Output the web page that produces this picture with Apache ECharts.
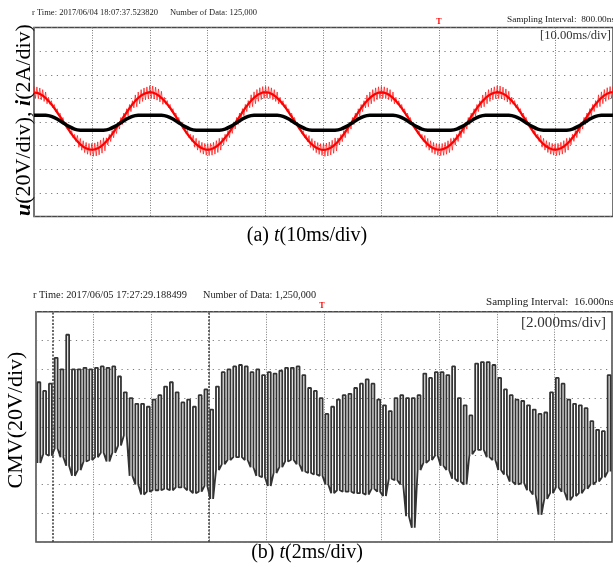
<!DOCTYPE html>
<html><head><meta charset="utf-8">
<script src="https://cdn.jsdelivr.net/npm/echarts@6/dist/echarts.min.js"></script>
<style>html,body{margin:0;padding:0;background:#fff}#c{width:613px;height:567px}</style>
</head><body><div id="c"></div>
<script>
// ---------- Panel (a): u (V) and i (A), 0..100 ms ----------
const uStepMs = 0.5;
const uVolts = [
 25.0, 24.7, 23.8, 22.4, 20.4, 17.9, 15.0, 11.8, 8.2, 4.5, 0.8, -3.0, -6.7, -10.3, -13.5, -16.4, -18.9, -20.9, -22.3, -23.2,
 -23.5, -23.2, -22.3, -20.9, -18.9, -16.4, -13.5, -10.3, -6.7, -3.0, 0.8, 4.5, 8.2, 11.8, 15.0, 17.9, 20.4, 22.4, 23.8, 24.7,
 25.3, 25.0, 24.0, 22.5, 20.5, 18.0, 15.1, 11.9, 8.3, 4.6, 0.9, -2.9, -6.6, -10.2, -13.4, -16.3, -18.8, -20.8, -22.2, -23.1,
 -23.4, -23.1, -22.2, -20.8, -18.8, -16.3, -13.4, -10.2, -6.6, -2.9, 0.9, 4.6, 8.3, 11.9, 15.1, 18.0, 20.5, 22.5, 24.0, 25.0,
 25.2, 24.9, 23.9, 22.4, 20.4, 17.9, 15.0, 11.8, 8.2, 4.5, 0.8, -3.0, -6.7, -10.3, -13.6, -16.5, -19.0, -21.0, -22.4, -23.3,
 -23.6, -23.3, -22.4, -21.0, -19.0, -16.5, -13.6, -10.3, -6.7, -3.0, 0.8, 4.5, 8.2, 11.8, 15.0, 17.9, 20.4, 22.4, 23.9, 24.8,
 25.1, 24.8, 23.9, 22.4, 20.4, 17.9, 15.0, 11.8, 8.2, 4.5, 0.8, -3.0, -6.7, -10.3, -13.5, -16.4, -18.9, -20.9, -22.3, -23.2,
 -23.5, -23.2, -22.3, -20.9, -18.9, -16.4, -13.5, -10.3, -6.7, -3.0, 0.8, 4.5, 8.2, 11.8, 15.0, 17.9, 20.4, 22.4, 23.8, 24.8,
 25.3, 25.0, 24.0, 22.5, 20.5, 18.0, 15.1, 11.9, 8.3, 4.6, 0.9, -2.9, -6.6, -10.2, -13.4, -16.3, -18.8, -20.8, -22.2, -23.1,
 -23.4, -23.1, -22.2, -20.8, -18.8, -16.3, -13.4, -10.2, -6.6, -2.9, 0.9, 4.6, 8.3, 11.9, 15.1, 18.0, 20.5, 22.5, 24.0, 25.0,
 25.2
];
// switching ripple amplitude (V), one value per 2.5 ms block
const uRippleV = [
 5.0, 3.0, 3.0, 5.0, 5.5, 3.0, 3.0, 5.0,
 5.5, 3.0, 3.0, 5.0, 5.0, 3.0, 3.0, 5.0,
 5.0, 3.0, 3.0, 5.0, 5.5, 3.0, 3.0, 5.0,
 5.0, 3.0, 3.0, 5.0, 5.0, 3.0, 3.0, 5.0,
 5.5, 3.0, 3.0, 5.0, 5.0, 3.0, 3.0, 5.0, 5.0
];
const iStepMs = 1;
const iAmps = [
 0.58, 0.58, 0.57, 0.48, 0.25, -0.06, -0.37, -0.60, -0.69, -0.70, -0.70, -0.70, -0.69, -0.60, -0.37, -0.06, 0.25, 0.48, 0.57, 0.58,
 0.58, 0.58, 0.57, 0.48, 0.25, -0.06, -0.37, -0.60, -0.69, -0.70, -0.70, -0.70, -0.69, -0.60, -0.37, -0.06, 0.25, 0.48, 0.57, 0.58,
 0.58, 0.58, 0.57, 0.48, 0.25, -0.06, -0.37, -0.60, -0.69, -0.70, -0.70, -0.70, -0.69, -0.60, -0.37, -0.06, 0.25, 0.48, 0.57, 0.58,
 0.58, 0.58, 0.57, 0.48, 0.25, -0.06, -0.37, -0.60, -0.69, -0.70, -0.70, -0.70, -0.69, -0.60, -0.37, -0.06, 0.25, 0.48, 0.57, 0.58,
 0.58, 0.58, 0.57, 0.48, 0.25, -0.06, -0.37, -0.60, -0.69, -0.70, -0.70, -0.70, -0.69, -0.60, -0.37, -0.06, 0.25, 0.48, 0.57, 0.58,
 0.58
];
const uScaleVPerDiv = 20, iScaleAPerDiv = 2;

// ---------- Panel (b): CMV (V), 0..20 ms ----------
const cmvStepMs = 0.2;
const cmvHigh = [
 31, 25, 30, 48, 40, 64, 40, 40, 41, 40,
 41, 42, 41, 42, 35, 24, 20, 16, 16, 14,
 19, 22, 28, 31, 24, 17, 19, 14, 22, 26,
 12, 28, 38, 40, 42, 43, 42, 38, 40, 36,
 38, 37, 39, 41, 41, 42, 36, 27, 25, 20,
 9, 14, 19, 22, 23, 27, 30, 33, 30, 19,
 15, 11, 20, 22, 20, 20, 22, 37, 34, 38,
 38, 36, 42, 20, 15, 8, 44, 45, 45, 43,
 34, 26, 22, 19, 18, 15, 12, 9, 10, 24,
 34, 30, 19, 16, 15, 13, 4, -2, -3, 36
];
const cmvLow = [
 -25, -19, -20, -15, -21, -27, -34, -30, -24, -23,
 -21, -18, -24, -18, -13, -6, -34, -40, -47, -45,
 -44, -44, -43, -44, -42, -42, -44, -46, -45, -41,
 -50, -30, -26, -23, -21, -21, -23, -28, -34, -35,
 -41, -32, -28, -24, -23, -26, -31, -32, -33, -34,
 -40, -46, -44, -45, -45, -46, -46, -47, -43, -45,
 -48, -36, -37, -40, -62, -70, -30, -25, -23, -20,
 -27, -30, -36, -38, -40, -19, -16, -16, -21, -23,
 -30, -33, -38, -40, -39, -44, -47, -61, -50, -46,
 -42, -45, -51, -48, -46, -43, -40, -38, -35, -31
];
const cmvCursorMs = [0.58, 6.0];

// ---------- build series data ----------
const uData = uVolts.map((v, k) => [k * uStepMs, v / uScaleVPerDiv]);
const uRipple = [];
uVolts.forEach((v, k) => {
  const t = k * uStepMs;
  const r = uRippleV[Math.min(uRippleV.length - 1, Math.floor(t / 2.5))];
  uRipple.push([t, (v + r) / uScaleVPerDiv]);
  if (k < uVolts.length - 1) uRipple.push([t + uStepMs / 2, (v - r) / uScaleVPerDiv]);
});
const iData = iAmps.map((v, k) => [k * iStepMs, v / iScaleAPerDiv]);
const cmvData = [];
cmvHigh.forEach((hi, k) => {
  const lo = cmvLow[k];
  const t0 = 0.05 + k * cmvStepMs, tm = t0 + cmvStepMs / 2;
  cmvData.push([t0, lo], [t0, hi], [tm, hi], [tm, lo]);
});

// ---------- text helpers ----------
const ctx2d = document.createElement('canvas').getContext('2d');
function fitText(text, x, y, w, size, family, color) {
  ctx2d.font = size + 'px ' + family;
  const mw = ctx2d.measureText(text).width || 1;
  return { type: 'text', x: x, y: y, scaleX: w / mw, silent: true, z: 100,
    style: { text: text, fontSize: size, fontFamily: family, fill: color, align: 'left', verticalAlign: 'middle' } };
}
const SERIF = 'Liberation Serif';

const vSplit = { show: true, lineStyle: { color: '#7a7a7a', width: 1, type: [1, 1.5] } };
const hSplit = { show: true, lineStyle: { color: '#7a7a7a', width: 1, type: [1.2, 4.5] } };
const hiddenAxis = { axisLine: { show: false }, axisTick: { show: false }, axisLabel: { show: false } };

const chart = echarts.init(document.getElementById('c'));
chart.setOption({
  animation: false,
  backgroundColor: '#fff',
  grid: [
    { left: 34, top: 27.5, width: 580, height: 189, show: true, borderColor: '#474747', borderWidth: 1.5, backgroundColor: 'transparent' },
    { left: 36, top: 311.7, width: 576, height: 230.4, show: true, borderColor: '#474747', borderWidth: 1.5, backgroundColor: 'transparent' }
  ],
  xAxis: [
    Object.assign({ type: 'value', gridIndex: 0, min: 0, max: 100, interval: 10, splitLine: vSplit }, hiddenAxis),
    Object.assign({ type: 'value', gridIndex: 1, min: 0, max: 20, interval: 2, splitLine: vSplit }, hiddenAxis)
  ],
  yAxis: [
    Object.assign({ type: 'value', gridIndex: 0, min: -4, max: 4, interval: 1, splitLine: hSplit }, hiddenAxis),
    Object.assign({ type: 'value', gridIndex: 1, min: -80, max: 80, interval: 20, splitLine: hSplit }, hiddenAxis)
  ],
  series: [
    { type: 'line', xAxisIndex: 0, yAxisIndex: 0, data: uRipple, showSymbol: false, silent: true,
      lineStyle: { color: 'rgba(255,20,20,0.8)', width: 0.9 }, z: 2 },
    { type: 'line', xAxisIndex: 0, yAxisIndex: 0, data: uData, showSymbol: false, silent: true,
      lineStyle: { color: '#ff0000', width: 2.2 }, z: 3 },
    { type: 'line', xAxisIndex: 0, yAxisIndex: 0, data: iData, showSymbol: false, silent: true, smooth: 0.3,
      lineStyle: { color: '#000', width: 3.5 }, z: 4 },
    { type: 'line', xAxisIndex: 1, yAxisIndex: 1, data: cmvData, showSymbol: false, silent: true,
      lineStyle: { color: '#333333', width: 1.8 }, z: 3,
      markLine: { silent: true, symbol: 'none', label: { show: false },
        lineStyle: { color: '#444', width: 1.6, type: [2, 1.5] },
        data: cmvCursorMs.map(t => ({ xAxis: t })) } }
  ],
  graphic: [
    fitText('r Time: 2017/06/04 18:07:37.523820', 32, 13, 126, 8, SERIF, '#222'),
    fitText('Number of Data: 125,000', 170, 13, 87, 8, SERIF, '#222'),
    fitText('Sampling Interval:  800.00ns', 507, 19.5, 108, 8, SERIF, '#222'),
    fitText('[10.00ms/div]', 540, 36, 71, 12, SERIF, '#333'),
    fitText('r Time: 2017/06/05 17:27:29.188499', 33, 295, 154, 9.5, SERIF, '#222'),
    fitText('Number of Data: 1,250,000', 203, 295, 113, 9.5, SERIF, '#222'),
    fitText('Sampling Interval:  16.000ns', 486, 302.7, 128, 9.5, SERIF, '#222'),
    fitText('[2.000ms/div]', 521, 323.5, 85, 14, SERIF, '#333'),
    { type: 'text', x: 439, y: 22, silent: true, z: 100,
      style: { text: 'T', fontSize: 8, fontWeight: 'bold', fontFamily: SERIF, fill: '#ff0000', align: 'center', verticalAlign: 'middle' } },
    { type: 'text', x: 322, y: 306, silent: true, z: 100,
      style: { text: 'T', fontSize: 8, fontWeight: 'bold', fontFamily: SERIF, fill: '#ff0000', align: 'center', verticalAlign: 'middle' } },
    { type: 'text', x: 24, y: 120, rotation: Math.PI / 2, silent: true, z: 100,
      style: { text: '{b|u}(20V/div), {b|i}(2A/div)', fontSize: 22, fontFamily: SERIF, fill: '#000',
        align: 'center', verticalAlign: 'middle',
        rich: { b: { fontSize: 22, fontFamily: SERIF, fontWeight: 'bold', fontStyle: 'italic', fill: '#000' } } } },
    { type: 'text', x: 16, y: 420, rotation: Math.PI / 2, silent: true, z: 100,
      style: { text: 'CMV(20V/div)', fontSize: 22, fontFamily: SERIF, fill: '#000', align: 'center', verticalAlign: 'middle' } },
    { type: 'text', x: 307, y: 236, silent: true, z: 100,
      style: { text: '(a) {it|t}(10ms/div)', fontSize: 20, fontFamily: SERIF, fill: '#000', align: 'center', verticalAlign: 'middle',
        rich: { it: { fontSize: 20, fontFamily: SERIF, fontStyle: 'italic', fill: '#000' } } } },
    { type: 'text', x: 307, y: 553, silent: true, z: 100,
      style: { text: '(b) {it|t}(2ms/div)', fontSize: 20, fontFamily: SERIF, fill: '#000', align: 'center', verticalAlign: 'middle',
        rich: { it: { fontSize: 20, fontFamily: SERIF, fontStyle: 'italic', fill: '#000' } } } }
  ]
});
</script>
</body></html>
